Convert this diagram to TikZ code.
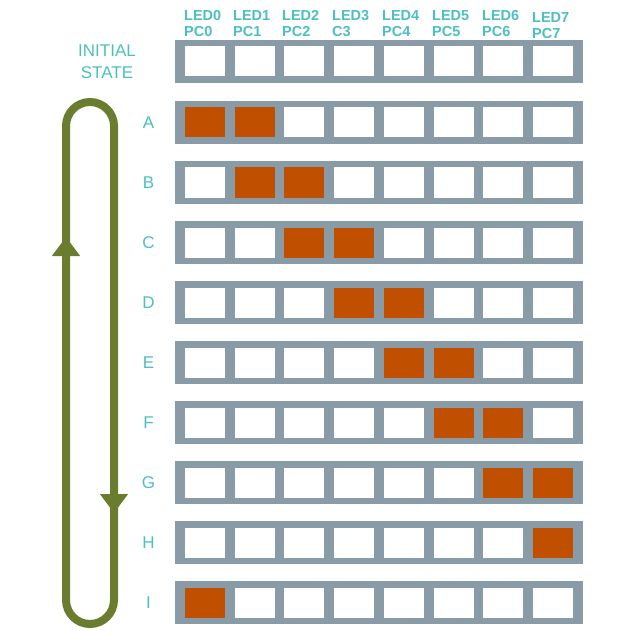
\documentclass[tikz,border=0pt]{standalone}
\usepackage{fontspec}
\setmainfont{Liberation Sans}[BoldFont={Liberation Sans Bold}]
\usetikzlibrary{arrows.meta,positioning}
\definecolor{ledText}{HTML}{4DBFBF}
\definecolor{barGray}{HTML}{8A9BA8}
\definecolor{ledOrange}{HTML}{C05000}
\definecolor{loopGreen}{HTML}{6A7D2E}

\begin{document}
\begin{tikzpicture}[
    x=1pt, y=1pt,
    bar/.style={rectangle, fill=barGray, minimum width=408pt, minimum height=43pt, inner sep=0pt},
    cell/.style={rectangle, fill=white, minimum width=40pt, minimum height=30pt, inner sep=0pt},
    rowlabel/.style={text=ledText, inner sep=0pt, font=\fontsize{17}{22}\selectfont, align=center},
    header/.style={text=ledText, inner sep=0pt, anchor=north west, align=left, font=\fontsize{14.5}{16}\selectfont\bfseries},
    loopline/.style={draw=loopGreen, line width=8pt},
    looparrow/.style={draw=loopGreen, fill=loopGreen, line width=8pt, -{Triangle[length=19pt, width=27pt]}}
]
\useasboundingbox (0,0) rectangle (631,-631);

% Column headers
\node[header] (h0) at (184,-10.5) {LED0\\PC0};
\node[header] (h1) at (233,-10.5) {LED1\\PC1};
\node[header] (h2) at (282,-10.5) {LED2\\PC2};
\node[header] (h3) at (332,-10.5) {LED3\\C3};
\node[header] (h4) at (382,-10.5) {LED4\\PC4};
\node[header] (h5) at (432,-10.5) {LED5\\PC5};
\node[header] (h6) at (482,-10.5) {LED6\\PC6};
\node[header] (h7) at (532,-12) {LED7\\PC7};

% Rows of LEDs
\foreach \r/\lbl/\y in {0/init/61.5, 1/A/122.5, 2/B/182.5, 3/C/242.5, 4/D/302.5,
                        5/E/362.5, 6/F/422.5, 7/G/482.5, 8/H/542.5, 9/I/602.5} {
    \node[bar] (bar\r) at (379,-\y) {};
    \foreach \c in {0,...,7} {
        \pgfmathtruncatemacro\lit{(\r>0)*(\r<9)*((\c==\r-1)||(\c==\r)) + (\r==9)*(\c==0)}
        \ifnum\lit=1 \def\ledfill{ledOrange}\else\def\ledfill{white}\fi
        \node[cell, fill=\ledfill] (c-\r-\c) at (205+49.7*\c,-\y) {};
    }
    \ifnum\r>0
        \node[rowlabel] (lbl\r) at (148.5,-\y) {\lbl};
    \fi
}
\node[rowlabel, anchor=north] (initlbl) at (107,-45) {INITIAL\\STATE};

% Cycle loop
\draw[loopline, rounded corners=24pt] (66,-102) rectangle (114,-624);
\draw[looparrow] (66,-262) -- (66,-237);
\draw[looparrow] (114,-489) -- (114,-513);

\end{tikzpicture}
\end{document}
